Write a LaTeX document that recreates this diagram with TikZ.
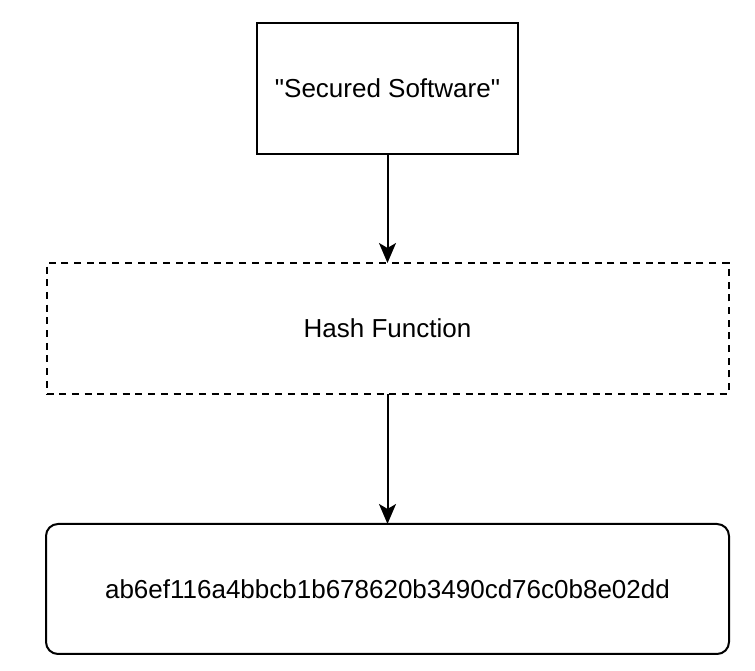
\documentclass[tikz,border=0pt]{standalone}
\usepackage{fontspec}
\newfontfamily\lsans{Liberation Sans}
\usetikzlibrary{arrows.meta}
\begin{document}
\begin{tikzpicture}[x=1pt,y=1pt,
  box/.style={draw=black, line width=2.2pt, inner sep=0pt, outer sep=0pt, font=\lsans\fontsize{26}{31}\selectfont},
  dashbox/.style={box, line width=2pt, dash pattern=on 7pt off 5.7pt},
  roundbox/.style={box, line width=2pt, rounded corners=12pt},
  conn/.style={draw=black, line width=2pt, -{Stealth[length=20pt, width=17pt, inset=5pt]}}]
\useasboundingbox (0,0) rectangle (755,671);
\node[box, minimum width=261pt, minimum height=131pt] (src) at (387.5,582.5) {"Secured Software"};
\node[dashbox, minimum width=682pt, minimum height=131pt] (hash) at (387.5,342.5) {Hash Function};
\node[roundbox, minimum width=683pt, minimum height=130pt] (out) at (387.5,82) {ab6ef116a4bbcb1b678620b3490cd76c0b8e02dd};
\draw[conn] (src.south) -- (hash.north);
\draw[conn] (hash.south) -- (out.north);
\end{tikzpicture}
\end{document}
